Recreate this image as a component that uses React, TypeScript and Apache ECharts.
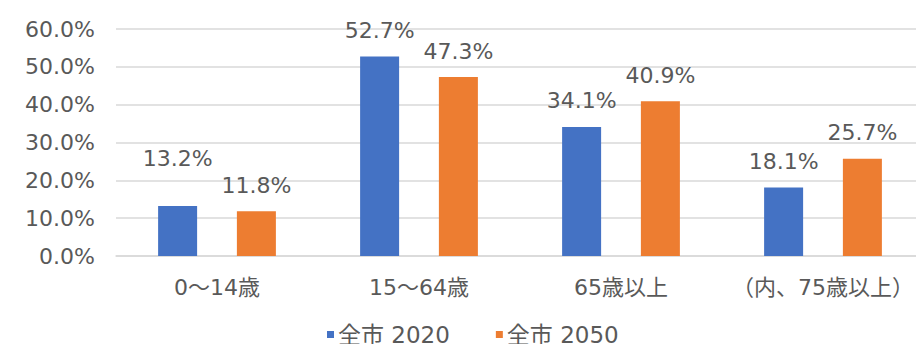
import React, { useEffect, useRef } from "react";
import * as echarts from "echarts";

const categories = ["0～14歳", "15～64歳", "65歳以上", "（内、75歳以上）"];
const seriesNames = ["全市 2020", "全市 2050"];
const values2020 = [13.2, 52.7, 34.1, 18.1];
const values2050 = [11.8, 47.3, 40.9, 25.7];
const yTicks = [0, 10, 20, 30, 40, 50, 60];

const FONT = "'DejaVu Sans', 'Noto Sans CJK JP', sans-serif";
const TEXT = "#595959";

export default function App() {
  const ref = useRef<HTMLDivElement>(null);
  useEffect(() => {
    if (!ref.current) return;
    const chart = echarts.init(ref.current, undefined, { renderer: "svg" });
    const label = {
      show: true,
      position: "top" as const,
      distance: 15,
      fontSize: 22,
      fontFamily: FONT,
      color: TEXT,
      formatter: (p: any) => `${Number(p.value).toFixed(1)}%`,
    };
    chart.setOption({
      animation: false,
      grid: { left: 116, width: 818, top: 29, bottom: 96, containLabel: false },
      legend: {
        data: seriesNames,
        left: 322,
        top: 318,
        itemWidth: 7,
        itemHeight: 7,
        itemGap: 46,
        icon: "rect",
        textStyle: { fontSize: 23, fontFamily: FONT, color: TEXT, padding: [0, 0, 0, -1] },
      },
      xAxis: {
        type: "category",
        data: categories,
        axisTick: { show: false },
        axisLine: { lineStyle: { color: "#d9d9d9", width: 1.5 } },
        axisLabel: { fontSize: 22, fontFamily: FONT, color: TEXT, margin: 20, interval: 0 },
      },
      yAxis: {
        type: "value",
        min: yTicks[0],
        max: yTicks[yTicks.length - 1],
        interval: 10,
        axisLabel: {
          fontSize: 22,
          fontFamily: FONT,
          color: TEXT,
          margin: 21,
          formatter: (v: number) => `${v.toFixed(1)}%`,
        },
        axisLine: { show: false },
        axisTick: { show: false },
        splitLine: { lineStyle: { color: "#d9d9d9", width: 1.5 } },
      },
      series: [
        {
          name: seriesNames[0],
          type: "bar",
          barWidth: 39,
          barGap: "102%",
          itemStyle: { color: "#4472C4" },
          label,
          data: values2020.map((v, i) =>
            i === 0 ? { value: v, label: { offset: [0, -22] } } : v
          ),
        },
        {
          name: seriesNames[1],
          type: "bar",
          barWidth: 39,
          barGap: "102%",
          itemStyle: { color: "#ED7D31" },
          label,
          data: values2050,
        },
      ],
    });
    return () => chart.dispose();
  }, []);
  return <div ref={ref} style={{ width: 924, height: 352, margin: -8 }} />;
}
